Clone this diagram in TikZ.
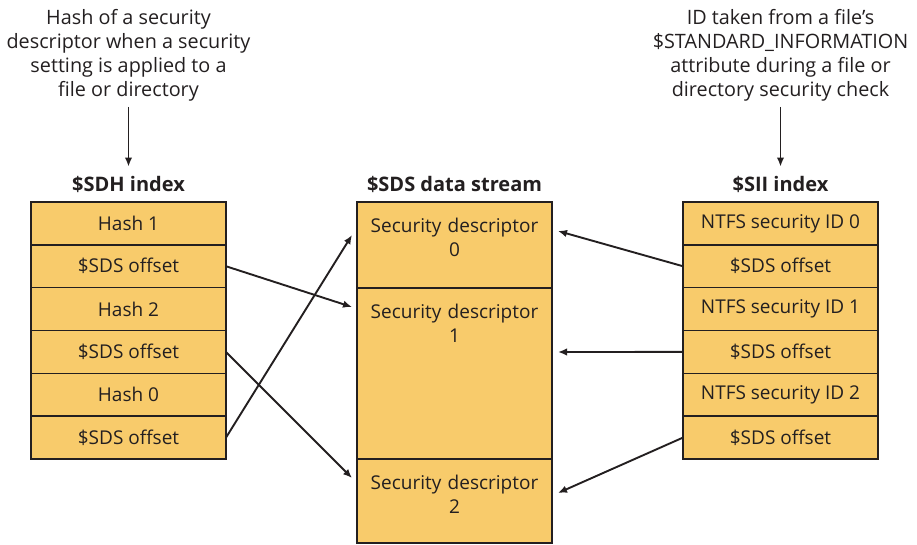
\documentclass[tikz,border=0pt]{standalone}
\usepackage{fontspec}
\setmainfont{Open Sans}
\usepackage{tikz}
\usetikzlibrary{positioning,arrows.meta}
\definecolor{cellfill}{RGB}{248,203,107}
\definecolor{ink}{RGB}{35,31,32}

\begin{document}
\begin{tikzpicture}[
  x=1pt, y=-1pt,
  node distance=0pt,
  txt/.style={font=\fontsize{19}{24}\selectfont, text=ink},
  cell/.style={txt, draw=ink, line width=1.6pt, fill=cellfill, outer sep=0pt, inner sep=0pt, minimum width=195pt, minimum height=42.83pt},
  sdscell/.style={cell, align=center, text width=190pt, text height=30pt},
  head/.style={txt, font=\fontsize{20}{24}\selectfont\bfseries, inner sep=0pt, text height=14.3pt, text depth=0pt},
  note/.style={txt, font=\fontsize{19.8}{24}\selectfont, align=center, inner sep=0pt},
  arr/.style={-{Latex[length=9pt,width=7.5pt]}, line width=1.9pt, draw=ink}
]
\useasboundingbox (0,0) rectangle (917,544);
% $SDH index
\node[cell, anchor=north] (h1) at (128.5,202) {Hash 1};
\node[cell, below=of h1] (ho1) {\$SDS offset};
\node[cell, below=of ho1] (h2) {Hash 2};
\node[cell, below=of h2] (ho2) {\$SDS offset};
\node[cell, below=of ho2] (h0) {Hash 0};
\node[cell, below=of h0] (ho0) {\$SDS offset};
\node[head, above=10pt of h1] (sdht) {\$SDH index};
\node[note, above=75.5pt of sdht] (hashnote) {Hash of a security\\descriptor when a security\\setting is applied to a\\file or directory};
% $SDS data stream
\node[sdscell, text depth=56pt, anchor=north] (sd0) at (454.5,202) {Security descriptor\\0};
\node[sdscell, text depth=141pt, below=of sd0] (sd1) {Security descriptor\\1};
\node[sdscell, text depth=54pt, below=of sd1] (sd2) {Security descriptor\\2};
\node[head, above=10pt of sd0] (sdst) {\$SDS data stream};
% $SII index
\node[cell, anchor=north] (i0) at (780.5,202) {NTFS security ID 0};
\node[cell, below=of i0] (io0) {\$SDS offset};
\node[cell, below=of io0] (i1) {NTFS security ID 1};
\node[cell, below=of i1] (io1) {\$SDS offset};
\node[cell, below=of io1] (i2) {NTFS security ID 2};
\node[cell, below=of i2] (io2) {\$SDS offset};
\node[head, above=10pt of i0] (siit) {\$SII index};
\node[note, above=75.5pt of siit] (idnote) {ID taken from a file’s\\\$STANDARD\_INFORMATION\\attribute during a file or\\directory security check};
% arrows
\draw[arr, shorten <=5pt, shorten >=10.7pt] (hashnote) -- (sdht);
\draw[arr, shorten <=5pt, shorten >=10.7pt] (idnote) -- (siit);
\draw[arr] (ho1.east) -- ([xshift=-5pt,yshift=-19pt]sd1.north west);
\draw[arr] (ho2.east) -- ([xshift=-5pt,yshift=-19pt]sd2.north west);
\draw[arr] (ho0.east) -- ([xshift=-5pt,yshift=-33pt]sd0.north west);
\draw[arr] (io0.west) -- ([xshift=6pt,yshift=-29pt]sd0.north east);
\draw[arr] (io1.west) -- ([xshift=6pt,yshift=-64pt]sd1.north east);
\draw[arr] (io2.west) -- ([xshift=6pt,yshift=-34pt]sd2.north east);
\end{tikzpicture}
\end{document}
